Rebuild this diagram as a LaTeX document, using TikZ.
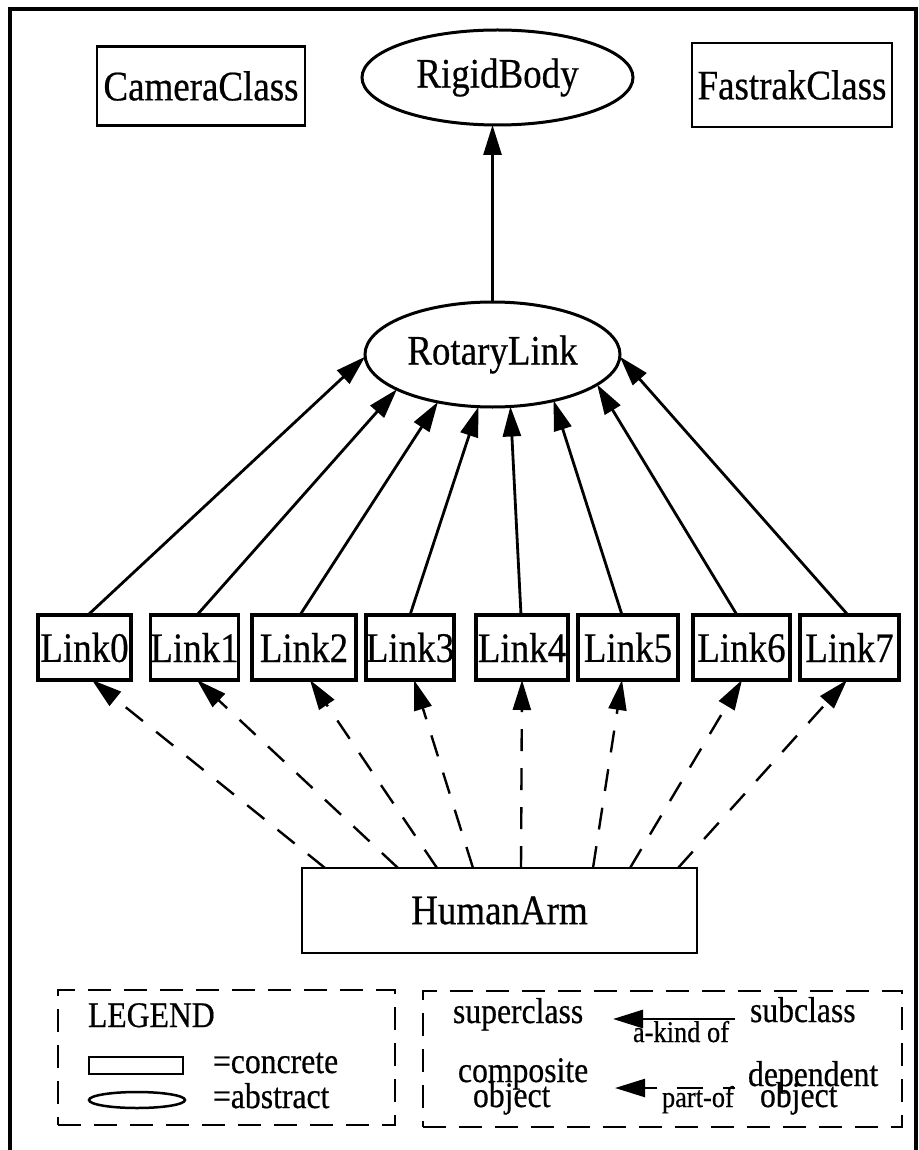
\documentclass[tikz,border=0pt]{standalone}
\usepackage{fontspec}
\setmainfont[FakeStretch=0.88,FakeBold=0.5]{Liberation Serif}
\usetikzlibrary{arrows.meta,shapes.geometric}
\begin{document}
\begin{tikzpicture}[x=1pt,y=-1pt,
  every node/.style={inner sep=0pt,outer sep=0pt},
  big/.style={font=\fontsize{42}{46}\selectfont},
  cls/.style={draw,line width=2.5pt,big},
  abst/.style={draw,ellipse,line width=3pt,big},
  lnk/.style={draw,line width=3.5pt,big,minimum height=65pt},
  txt/.style={anchor=base west,font=\fontsize{36}{38}\selectfont},
  small/.style={anchor=base west,font=\fontsize{30}{32}\selectfont},
  head/.style={-{Triangle[length=30pt,width=18pt]}},
  isa/.style={head,line width=2.8pt},
  partof/.style={head,line width=2.4pt,dash pattern=on 22pt off 17pt},
  legbox/.style={draw,line width=2.5pt,dash pattern=on 23pt off 13pt}
]
\useasboundingbox (0,0) rectangle (918,1150);
\fill[white] (0,0) rectangle (918,1150);
% frame
\draw[line width=3.5pt] (10,1160) -- (10,9) -- (916,9) -- (916,1160);

% top row
\node[cls,minimum width=208pt,minimum height=79pt] (cam) at (201,86) {CameraClass};
\node[abst,minimum width=271pt,minimum height=95pt] (rigid) at (497.5,77.5) {RigidBody};
\node[cls,minimum width=200pt,minimum height=84pt] (fas) at (792,85) {FastrakClass};

% rotary link
\node[abst,minimum width=255pt,minimum height=105pt] (rot) at (492.5,354.5) {RotaryLink};
\draw[isa] (rot.north) -- (rot.north |- rigid.south);

% links
\node[lnk,minimum width=93pt] (l0) at (84.5,647.5) {Link0};
\node[lnk,minimum width=87pt] (l1) at (194.5,647.5) {Link1};
\node[lnk,minimum width=104pt] (l2) at (304,647.5) {Link2};
\node[lnk,minimum width=88pt] (l3) at (410,647.5) {Link3};
\node[lnk,minimum width=92pt] (l4) at (522,647.5) {Link4};
\node[lnk,minimum width=100pt] (l5) at (628,647.5) {Link5};
\node[lnk,minimum width=97pt] (l6) at (741.5,647.5) {Link6};
\node[lnk,minimum width=99pt] (l7) at (849.5,647.5) {Link7};

\draw[isa] ([xshift=3.5pt]l0.north) -- (rot.181);
\draw[isa] ([xshift=2.5pt]l1.north) -- (rot.200);
\draw[isa] ([xshift=-4pt]l2.north) -- (rot.221);
\draw[isa] (l3.north) -- (rot.255);
\draw[isa] ([xshift=-1pt]l4.north) -- (rot.289);
\draw[isa] ([xshift=-6pt]l5.north) -- (rot.323);
\draw[isa] ([xshift=-4.5pt]l6.north) -- (rot.344);
\draw[isa] ([xshift=-1.5pt]l7.north) -- (rot.359);

% human arm
\node[draw,line width=2pt,big,minimum width=395pt,minimum height=85pt] (ha) at (499.5,910.5) {HumanArm};

\draw[partof] ([xshift=23pt]ha.north west) -- ([xshift=7.5pt]l0.south);
\draw[partof] ([xshift=96pt]ha.north west) -- ([xshift=2.5pt]l1.south);
\draw[partof] ([xshift=135pt]ha.north west) -- ([xshift=6pt]l2.south);
\draw[partof] ([xshift=171pt]ha.north west) -- ([xshift=4pt]l3.south);
\draw[partof] ([xshift=219pt]ha.north west) -- (l4.south);
\draw[partof] ([xshift=291pt]ha.north west) -- ([xshift=-6pt]l5.south);
\draw[partof] ([xshift=328pt]ha.north west) -- ([xshift=0.5pt]l6.south);
\draw[partof] ([xshift=376pt]ha.north west) -- ([xshift=-2.5pt]l7.south);

% legend left
\node[legbox,minimum width=337pt,minimum height=135pt] (legL) at (226.5,1057.5) {};
\node[txt] (legT) at (88,1027) {LEGEND};
\node[draw,line width=2pt,minimum width=94pt,minimum height=17pt] (icR) at (136,1065.5) {};
\node[txt] (conc) at (213,1073) {=concrete};
\node[draw,ellipse,line width=2.5pt,minimum width=96pt,minimum height=16pt] (icE) at (137,1100) {};
\node[txt] (abs) at (213,1108) {=abstract};

% legend right
\node[legbox,minimum width=479pt,minimum height=136pt] (legR) at (662.5,1059) {};
\node[txt] (sup) at (453,1023) {superclass};
\node[txt] (sub) at (750,1022) {subclass};
\coordinate (akS) at (735,1019);
\coordinate (akE) at (613,1019);
\draw[isa] (akS) -- (akE);
\node[small] (akind) at (633,1042) {a-kind of};
\node[txt] (comp1) at (458,1082) {composite};
\node[txt] (comp2) at (473,1107) {object};
\node[txt] (dep1) at (748,1086) {dependent};
\node[txt] (dep2) at (760,1107) {object};
\coordinate (poS) at (735,1088);
\coordinate (poE) at (615,1088);
\draw[partof,dash pattern=on 12pt off 20pt on 26pt off 20pt] (poS) -- (poE);
\node[small] (pof) at (662,1107) {part-of};
\end{tikzpicture}
\end{document}
